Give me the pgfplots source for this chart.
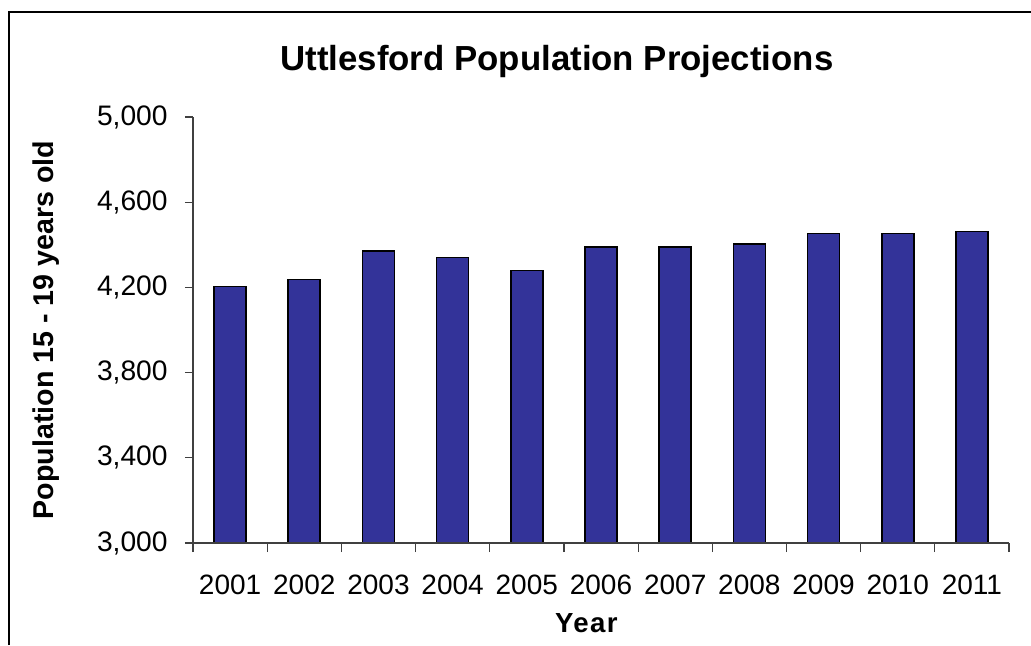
\documentclass[border=0pt]{standalone}
\usepackage{fontspec}
\setmainfont{Liberation Sans}
\usepackage{pgfplots}
\pgfplotsset{compat=1.18}
\definecolor{barblue}{HTML}{333399}

\begin{document}
\begin{tikzpicture}
% page is 1031x645 px, 1 px = 0.5pt
\useasboundingbox (0,0) rectangle (515.5pt,322.5pt);
\draw[line width=1pt] (4.5pt,0) -- (4.5pt,316.5pt) -- (515.5pt,316.5pt);
\begin{axis}[
    at={(96.5pt,51pt)}, anchor=south west,
    scale only axis,
    width=408pt, height=213pt,
    xmin=0.5, xmax=11.5,
    ymin=3000, ymax=5000,
    axis x line*=bottom, axis y line*=left,
    axis line style={black!75, line width=0.6pt},
    tick align=outside,
    tick style={black!75, line width=0.6pt},
    ytick={3000,3400,...,5000},
    major tick length=4pt,
    xtick={1,...,11},
    xticklabels={2001,2002,2003,2004,2005,2006,2007,2008,2009,2010,2011},
    x tick style={draw=none},
    minor xtick={0.5,1.5,...,11.5},
    minor x tick style={draw=black!75, line width=0.6pt},
    minor tick length=4.5pt,
    /pgf/number format/.cd, 1000 sep={,}, assume math mode=true,
    /pgfplots/.cd,
    yticklabel style={font=\fontsize{14.1pt}{16pt}\selectfont, anchor=east, inner sep=0pt, xshift=-8.5pt},
    xticklabel style={font=\fontsize{14pt}{16pt}\selectfont, anchor=base, inner sep=0pt, yshift=-21.5pt},
    title={Uttlesford Population Projections},
    title style={font=\bfseries\fontsize{17.4pt}{20pt}\selectfont, at={(rel axis cs:0.446,1)}, anchor=base, inner sep=0pt, yshift=17.2pt},
    xlabel={Year},
    xlabel style={font=\bfseries\fontsize{13.8pt}{16pt}\selectfont\addfontfeature{LetterSpace=5}, at={(rel axis cs:0.482,0)}, anchor=base, inner sep=0pt, yshift=-44.5pt},
    ylabel={Population 15 - 19 years old},
    ylabel style={font=\bfseries\fontsize{14.3pt}{16pt}\selectfont, at={(rel axis cs:0,0.5)}, anchor=center, inner sep=0pt, yshift=73.5pt},
    axis on top,
]
\addplot[ybar, bar width=16pt, bar shift=0pt, fill=barblue, draw=black, line width=0.8pt]
    coordinates {(1,4205)(2,4238)(3,4370)(4,4340)(5,4280)(6,4390)(7,4390)(8,4404)(9,4454)(10,4454)(11,4463)};
\end{axis}
\end{tikzpicture}
\end{document}
